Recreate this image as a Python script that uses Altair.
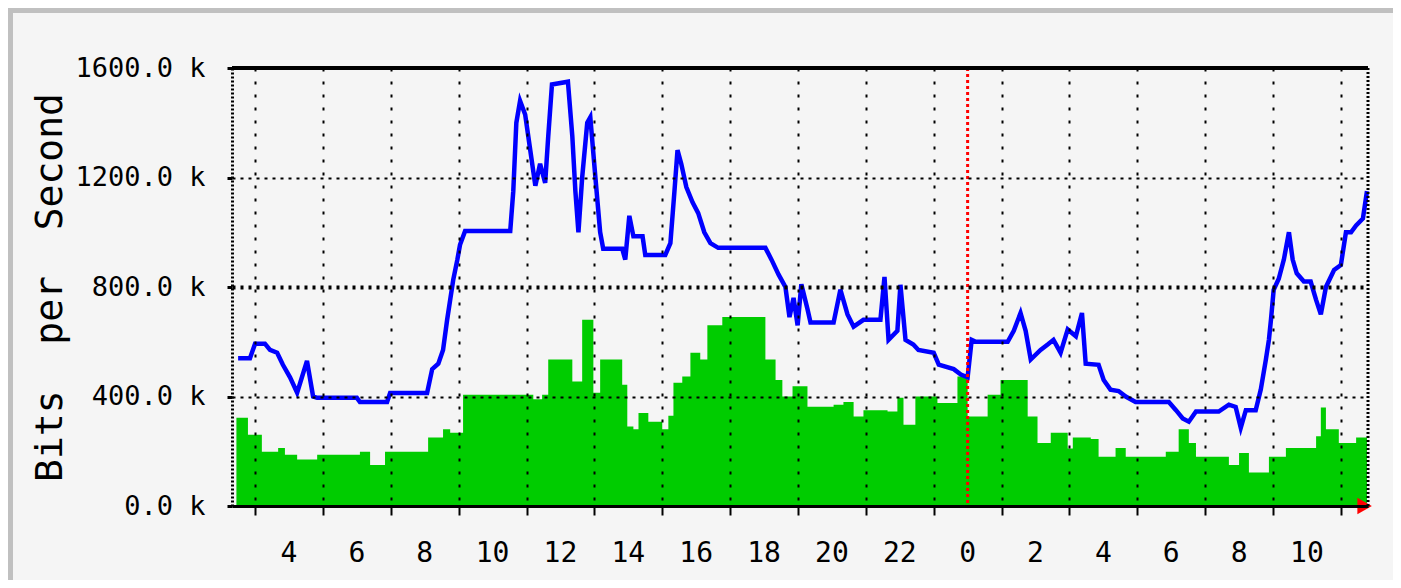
import altair as alt
import pandas as pd

# ---- data (hours since midnight of day 1; day 2 hours are +24), values in k bits/s ----
green_hours = [2.45, 2.79, 3.20, 3.68, 3.88, 4.24, 4.83, 6.09, 6.39, 6.83,
               8.10, 8.54, 8.75, 9.13, 11.2, 11.46, 11.64, 12.35, 12.64, 12.97,
               13.17, 13.82, 13.97, 14.15, 14.30, 14.59, 15.00, 15.18, 15.33, 15.59,
               15.83, 16.12, 16.33, 16.77, 18.04, 18.34, 18.54, 18.84, 19.28, 20.05,
               20.34, 20.64, 20.93, 21.64, 21.93, 22.11, 22.46, 23.11, 23.70, 24.00,
               24.59, 24.97, 25.77, 26.06, 26.45, 26.95, 27.10, 27.63, 27.86, 28.36,
               28.66, 29.84, 30.22, 30.52, 30.73, 31.70, 32.00, 32.29, 32.88, 33.38,
               34.27, 34.41, 34.56, 34.94, 35.45, 35.77]
green_vals = [322, 260, 198, 212, 187, 170, 187, 198, 150, 198,
              250, 280, 268, 406, 390, 406, 535, 455, 680, 414,
              535, 443, 290, 280, 340, 308, 280, 330, 450, 473,
              560, 535, 660, 690, 535, 460, 400, 437, 363, 370,
              380, 327, 350, 345, 395, 297, 400, 376, 473, 327,
              406, 460, 327, 230, 268, 210, 250, 245, 180, 212,
              180, 198, 280, 230, 180, 150, 194, 122, 180, 212,
              255, 360, 280, 230, 250, 250]

blue_hours = [2.50, 2.85, 3.00, 3.29, 3.44, 3.65, 3.82, 4.03, 4.24, 4.53,
              4.71, 4.83, 6.00, 6.09, 6.89, 6.98, 8.07, 8.22, 8.40, 8.54,
              8.66, 8.75, 8.84, 8.96, 9.04, 9.19, 10.52, 10.61, 10.70, 10.81,
              10.96, 11.11, 11.26, 11.40, 11.55, 11.64, 11.75, 12.22, 12.35, 12.44,
              12.53, 12.64, 12.79, 12.88, 13.03, 13.17, 13.26, 13.82, 13.91, 14.03,
              14.15, 14.42, 14.50, 15.09, 15.24, 15.36, 15.45, 15.56, 15.71, 15.89,
              16.06, 16.24, 16.42, 16.65, 18.04, 18.22, 18.43, 18.63, 18.75, 18.87,
              18.99, 19.10, 19.28, 19.37, 20.05, 20.25, 20.46, 20.64, 20.93, 21.43,
              21.55, 21.67, 21.93, 22.02, 22.17, 22.40, 22.55, 23.00, 23.15, 23.59,
              23.80, 24.00, 24.12, 24.24, 25.18, 25.36, 25.56, 25.71, 25.86, 26.15,
              26.36, 26.53, 26.74, 26.95, 27.19, 27.37, 27.48, 27.86, 28.01, 28.21,
              28.45, 28.66, 28.95, 29.93, 30.14, 30.34, 30.52, 30.73, 31.40, 31.70,
              31.90, 32.05, 32.20, 32.49, 32.64, 32.79, 32.88, 32.94, 33.02, 33.17,
              33.32, 33.47, 33.58, 33.70, 33.91, 34.11, 34.27, 34.41, 34.56, 34.80,
              35.00, 35.15, 35.30, 35.45, 35.65, 35.77]
blue_vals = [540, 540, 593, 593, 570, 560, 516, 470, 414, 530,
             400, 395, 395, 380, 380, 413, 413, 500, 520, 570,
             680, 753, 826, 899, 954, 1005, 1005, 1150, 1400, 1480,
             1430, 1300, 1170, 1250, 1180, 1350, 1540, 1550, 1350, 1150,
             1000, 1200, 1400, 1420, 1200, 1000, 940, 940, 900, 1060,
             985, 985, 917, 917, 960, 1150, 1300, 1250, 1165, 1110,
             1070, 1000, 960, 943, 943, 900, 845, 800, 690, 760,
             660, 810, 720, 670, 670, 790, 700, 655, 680, 680,
             837, 607, 640, 808, 607, 590, 570, 560, 516, 500,
             480, 470, 607, 600, 600, 640, 705, 640, 535, 570,
             590, 607, 560, 645, 620, 705, 520, 516, 460, 425,
             420, 400, 380, 380, 350, 320, 308, 345, 345, 370,
             362, 286, 350, 350, 425, 535, 607, 680, 790, 830,
             900, 1000, 900, 850, 820, 820, 753, 700, 800, 862,
             880, 1000, 1000, 1025, 1050, 1150]

y_ticks = [0, 400, 800, 1200, 1600]
x_ticks = list(range(3, 36))
x_label_hours = list(range(4, 36, 2))
x_label_text = [str(h % 24) for h in x_label_hours]
midnight = [24]
arrow_hour = [35.7]
arrow_val = [0]
x_start, x_end = 2.32, 35.8
y_title = "Bits\u00a0\u00a0per\u00a0\u00a0Second"

assert len(green_hours) == len(green_vals)
assert len(blue_hours) == len(blue_vals)

W, H = 1136, 438
BG = "#f5f5f5"
FONT = "DejaVu Sans Mono"

green_df = pd.DataFrame({"h": green_hours, "v": green_vals})
blue_df = pd.DataFrame({"h": blue_hours, "v": blue_vals})
mid_df = pd.DataFrame({"h": midnight})
arrow_df = pd.DataFrame({"h": arrow_hour, "v": arrow_val})
lab_df = pd.DataFrame({"h": x_label_hours, "t": x_label_text})
one = pd.DataFrame({"d": [0]})

xscale = alt.Scale(domain=[x_start, x_end], nice=False, zero=False)
yscale = alt.Scale(domain=[0, 1600], nice=False)

x_axis = alt.Axis(
    values=x_ticks,
    labels=False,
    grid=True, gridColor="black", gridDash=[3, 10], gridWidth=2,
    gridOpacity={"condition": {"test": "datum.value === 24", "value": 0}, "value": 1},
    tickSize=9, tickWidth=2, tickColor="black",
    domainColor="black", domainWidth=3,
    title=None, zindex=1,
)

y_axis = alt.Axis(
    values=y_ticks,
    labelExpr="format(datum.value, '.1f') + ' k'",
    grid=True, gridColor="black", gridDash=[3, 5],
    gridWidth={"condition": {"test": "datum.value === 800", "value": 4}, "value": 2},
    gridOpacity={"condition": {"test": "datum.value === 0 || datum.value === 1600", "value": 0}, "value": 1},
    tickSize=5, tickWidth=3, tickColor="black",
    domainColor="black", domainWidth=3, domainDash=[2, 2],
    labelFont=FONT, labelFontSize=27, labelColor="black", labelPadding=22,
    labelFlush=False, labelOverlap=False,
    title=y_title, titleFont=FONT, titleFontSize=38,
    titleFontWeight="normal", titleColor="black", titleAngle=270,
    titleX=-182, titleY=H / 2, titleAlign="center", titleBaseline="middle",
    zindex=1,
)

area = alt.Chart(green_df).mark_area(interpolate="step-after", color="#00cc00", opacity=1).encode(
    x=alt.X("h:Q", scale=xscale, axis=x_axis),
    y=alt.Y("v:Q", scale=yscale, axis=y_axis),
)

line = alt.Chart(blue_df).mark_line(color="#0000ff", strokeWidth=4.5).encode(
    x=alt.X("h:Q", scale=xscale),
    y=alt.Y("v:Q", scale=yscale),
)

mid_rule = alt.Chart(mid_df).mark_rule(color="#ff0000", strokeWidth=3, strokeDash=[3, 3]).encode(
    x=alt.X("h:Q", scale=xscale),
)

arrow = alt.Chart(arrow_df).mark_point(shape="triangle-right", filled=True, color="#ff0000",
                                       size=280, opacity=1).encode(
    x=alt.X("h:Q", scale=xscale),
    y=alt.Y("v:Q", scale=yscale),
)

# hour labels under the axis (every 2 hours), positioned by the x scale
hour_labels = alt.Chart(lab_df).mark_text(
    font=FONT, fontSize=28, color="black", baseline="middle", align="center"
).encode(
    x=alt.X("h:Q", scale=xscale),
    y=alt.value(H + 48),
    text="t:N",
)

top_border = alt.Chart(one).mark_rule(color="black", strokeWidth=4).encode(
    x=alt.value(0), x2=alt.value(W), y=alt.value(0))
right_border = alt.Chart(one).mark_rule(color="black", strokeWidth=3, strokeDash=[2, 2]).encode(
    x=alt.value(W), y=alt.value(0), y2=alt.value(H))
frame_top = alt.Chart(one).mark_rule(color="#c0c0c0", strokeWidth=5).encode(
    x=alt.value(-224), x2=alt.value(W + 25), y=alt.value(-57.5))
frame_left = alt.Chart(one).mark_rule(color="#c0c0c0", strokeWidth=5).encode(
    x=alt.value(-221.5), y=alt.value(-60), y2=alt.value(H + 74))

chart = alt.layer(
    area, line, mid_rule, arrow, hour_labels, top_border, right_border, frame_top, frame_left
).properties(
    width=W, height=H,
    autosize=alt.AutoSizeParams(type="none"),
    padding={"left": 224, "top": 60, "right": 25, "bottom": 74},
    background=BG,
).configure_view(stroke="transparent", fill=BG)

chart.save("out.html", embed_options={"renderer": "svg", "actions": False})
